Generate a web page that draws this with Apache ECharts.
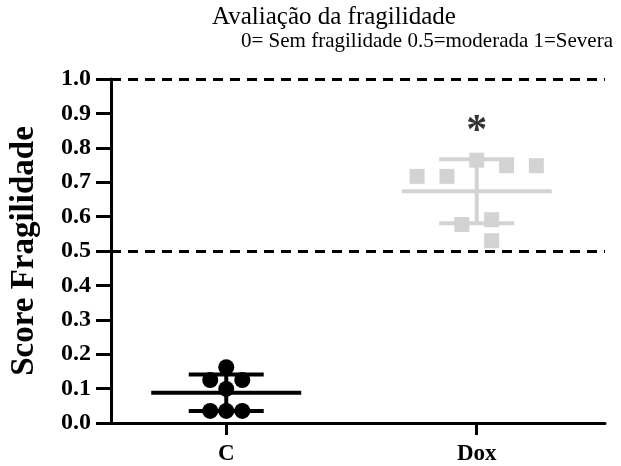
<!DOCTYPE html>
<html><head><meta charset="utf-8">
<script src="https://cdn.jsdelivr.net/npm/echarts@6/dist/echarts.min.js"></script>
<style>html,body{margin:0;padding:0;background:#fff}#c{width:621px;height:466px}</style>
</head><body><div id="c"></div>
<script>
// ---- data ----
const categories = ['C', 'Dox'];
const valuesC = [0.162, 0.125, 0.125, 0.099, 0.035, 0.035, 0.035];
const jitterC = [0, -1, 1, 0, -1, 0, 1];            // column slot of each point
const valuesDox = [0.717, 0.717, 0.764, 0.748, 0.748, 0.577, 0.591, 0.530];
const jitterDox = [-2, -1, 0, 1, 2, -0.5, 0.5, 0.5];
const means = [0.088, 0.674];
const sds = [0.053, 0.093];
const refLines = [0.5, 1.0];
const starCategory = 1, starValue = 0.845;
const titleLine1 = 'Avaliação da fragilidade';
const titleLine2 = '0= Sem fragilidade 0.5=moderada 1=Severa';
const yName = 'Score Fragilidade';

// ---- styling ----
const FONT = "'Liberation Serif','Times New Roman',serif";
const GREY = '#d3d3d3';
const slotC = 0.064, slotDox = 0.119;

const chart = echarts.init(document.getElementById('c'), null, {renderer: 'canvas'});

const stats = means.map((m, i) => [i, m, sds[i]]);

chart.setOption({
  animation: false,
  backgroundColor: '#fff',
  title: [
    {text: titleLine1, left: 207, top: 0, textStyle: {fontFamily: FONT, fontWeight: 'normal', fontSize: 25, color: '#000'}},
    {text: titleLine2, right: 3, top: 26, textStyle: {fontFamily: FONT, fontWeight: 'normal', fontSize: 21, color: '#000'}}
  ],
  grid: {left: 105, right: 16, top: 79, bottom: 42, containLabel: false},
  xAxis: {
    type: 'value', min: -0.46, max: 1.512,
    splitLine: {show: false},
    axisLine: {show: true, onZero: false, lineStyle: {color: '#000', width: 3}},
    axisTick: {show: true, customValues: [0, 1], length: 12, lineStyle: {color: '#000', width: 3}},
    axisLabel: {customValues: [0, 1], formatter: v => categories[Math.round(v)] || '', margin: 20,
      fontFamily: FONT, fontWeight: 'bold', fontSize: 23, color: '#000'}
  },
  yAxis: {
    type: 'value', min: 0, max: 1, interval: 0.1,
    name: yName, nameLocation: 'middle', nameRotate: 90, nameGap: 70,
    nameTextStyle: {fontFamily: FONT, fontWeight: 'bold', fontSize: 33, color: '#000'},
    splitLine: {show: false},
    axisLine: {show: true, onZero: false, lineStyle: {color: '#000', width: 3}},
    axisTick: {show: true, length: 15, lineStyle: {color: '#000', width: 3}},
    axisLabel: {formatter: v => v.toFixed(1), margin: 20,
      fontFamily: FONT, fontWeight: 'bold', fontSize: 24, color: '#000'}
  },
  series: [
    {
      type: 'line', data: [], silent: true,
      markLine: {
        silent: true, symbol: 'none', label: {show: false},
        lineStyle: {color: '#000', width: 3, type: [10, 7]},
        data: refLines.map(v => ({yAxis: v}))
      }
    },
    {
      type: 'custom', silent: true, z: 2,
      data: stats,
      renderItem: (params, api) => {
        const i = api.value(0), m = api.value(1), s = api.value(2);
        const c = api.coord([i, m]);
        const hi = api.coord([i, m + s]);
        const lo = api.coord([i, m - s]);
        const col = i === 0 ? '#000' : GREY;
        const st = {stroke: col, lineWidth: 4};
        return {type: 'group', children: [
          {type: 'line', shape: {x1: c[0] - 75, y1: c[1], x2: c[0] + 75, y2: c[1]}, style: st},
          {type: 'line', shape: {x1: c[0] - 37.5, y1: hi[1], x2: c[0] + 37.5, y2: hi[1]}, style: st},
          {type: 'line', shape: {x1: c[0] - 37.5, y1: lo[1], x2: c[0] + 37.5, y2: lo[1]}, style: st},
          {type: 'line', shape: {x1: c[0], y1: hi[1], x2: c[0], y2: lo[1]}, style: st}
        ]};
      }
    },
    {
      type: 'scatter', z: 3, symbol: 'circle', symbolSize: 16,
      itemStyle: {color: '#000', opacity: 1},
      data: valuesC.map((v, k) => [0 + jitterC[k] * slotC, v])
    },
    {
      type: 'scatter', z: 3, symbol: 'rect', symbolSize: 15,
      itemStyle: {color: GREY, opacity: 1},
      data: valuesDox.map((v, k) => [1 + jitterDox[k] * slotDox, v])
    },
    {
      type: 'scatter', z: 4, symbolSize: 0,
      data: [[starCategory, starValue]],
      label: {show: true, position: 'inside', formatter: '*',
        fontFamily: FONT, fontWeight: 'bold', fontSize: 42, color: '#000'}
    }
  ]
});
</script>
</body></html>
